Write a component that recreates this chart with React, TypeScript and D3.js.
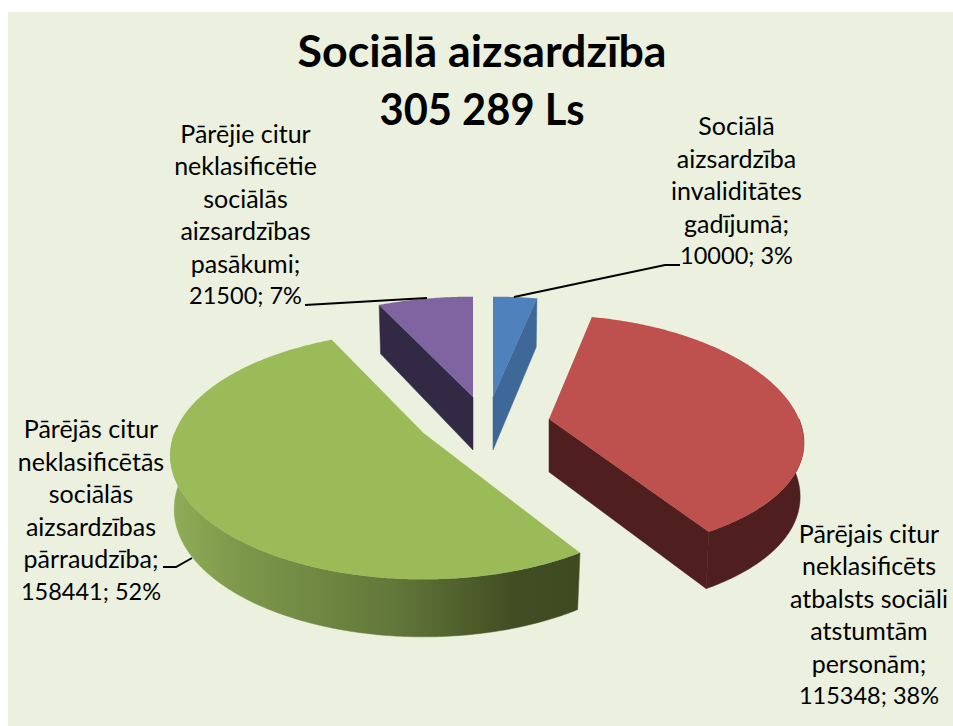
import React from "react";
import * as d3 from "d3";

const titleLines = ["Sociālā aizsardzība", "305 289 Ls"];
const categories = [
  "Sociālā aizsardzība invaliditātes gadījumā",
  "Pārējais citur neklasificēts atbalsts sociāli atstumtām personām",
  "Pārējās citur neklasificētās sociālās aizsardzības pārraudzība",
  "Pārējie citur neklasificētie sociālās aizsardzības pasākumi",
];
const values = [10000, 115348, 158441, 21500];
const percents = ["3%", "38%", "52%", "7%"];
const topColors = ["#4F81BD", "#BE504E", "#9BBB59", "#8064A2"];
const wallColors = ["#3D6897", "#4F1F1F", "url(#greenWall)", "#322A45"];

const labelLines = [
  ["Sociālā", "aizsardzība", "invaliditātes", "gadījumā;"],
  ["Pārējais citur", "neklasificēts", "atbalsts sociāli", "atstumtām", "personām;"],
  ["Pārējās citur", "neklasificētās", "sociālās", "aizsardzības", "pārraudzība;"],
  ["Pārējie citur", "neklasificētie", "sociālās", "aizsardzības", "pasākumi;"],
];

// layout only
const sliceLayout = [
  { cx: 493, cy: 397, rx: 256, px: 0.196, ry: 120, py: 0.196 },
  { cx: 549, cy: 419, rx: 250, px: 0.196, ry: 118, py: 0.136 },
  { cx: 423.5, cy: 433, rx: 249, px: 0.18, ry: 120, py: 0.18 },
  { cx: 473, cy: 397, rx: 258, px: 0.196, ry: 120, py: 0.196 },
];
const labelAnchors = [
  { x: 736.5, y: 125, dy: 32.5 },
  { x: 869, y: 533, dy: 32.4 },
  { x: 91, y: 428, dy: 32.5 },
  { x: 245.5, y: 133, dy: 32.4 },
];
const titleLayout = [
  { y: 50, width: 369 },
  { y: 108, width: 205 },
];
const leaderPaths: [number, number][][] = [
  [[514, 297], [665, 265], [680, 265]],
  [],
  [[163, 567], [176, 567], [192, 558]],
  [[305, 305], [427, 298]],
];

const line = d3.line<[number, number]>().x((d) => d[0]).y((d) => d[1]);

type L = (typeof sliceLayout)[number];
function project(l: L, a: number, r: number, lower: boolean): [number, number] {
  const u = r * Math.sin(a);
  const v = r * Math.cos(a);
  let x = (l.rx * u) / (1 + l.px * v);
  let y = (-l.ry * v) / (1 + l.py * v);
  if (lower) {
    x *= 0.985;
    y += 53 - 4.5 * v;
  }
  return [l.cx + x, l.cy + y];
}

function arcPoints(l: L, a0: number, a1: number, lower: boolean) {
  const n = Math.max(2, Math.ceil(Math.abs(a1 - a0) / 0.01));
  return d3.range(n + 1).map((i) => project(l, a0 + ((a1 - a0) * i) / n, 1, lower));
}

const arcs = d3.pie<number>().sort(null).startAngle(0).endAngle(2 * Math.PI)(values);

export default function App() {
  const font = "Lato, Carlito, 'Open Sans', sans-serif";
  return (
    <svg
      width={953}
      height={726}
      style={{ position: "absolute", left: 0, top: 0, background: "#fff" }}
      fontFamily={font}
    >
      <defs>
        <linearGradient id="greenWall" gradientUnits="userSpaceOnUse" x1={170} x2={577} y1={0} y2={0}>
          <stop offset="0" stopColor="#8FAE58" />
          <stop offset="0.15" stopColor="#7F9A4C" />
          <stop offset="0.55" stopColor="#62773A" />
          <stop offset="0.85" stopColor="#414D22" />
          <stop offset="1" stopColor="#3F4A20" />
        </linearGradient>
      </defs>
      <rect x={8} y={12} width={945} height={714} fill="#EBF1DE" />

      {arcs.map((arc, i) => {
        const l = sliceLayout[i];
        const a0 = arc.startAngle;
        const a1 = arc.endAngle;
        const wStart = Math.max(a0, Math.PI / 2);
        const wEnd = Math.min(a1, (3 * Math.PI) / 2);
        const walls: React.ReactNode[] = [];
        if (wEnd > wStart) {
          const top = arcPoints(l, wStart, wEnd, false);
          const bot = arcPoints(l, wStart, wEnd, true).reverse();
          walls.push(<path key="outer" d={line([...top, ...bot])! + "Z"} fill={wallColors[i]} stroke={wallColors[i]} strokeWidth={0.5} />);
        }
        [
          { a: a0, show: Math.sin(a0) < -1e-6 },
          { a: a1, show: Math.sin(a1) > 1e-6 },
        ].forEach((c, k) => {
          if (!c.show) return;
          const pts: [number, number][] = [
            project(l, 0, 0, false),
            project(l, c.a, 1, false),
            project(l, c.a, 1, true),
            project(l, 0, 0, true),
          ];
          walls.push(<path key={"cut" + k} d={line(pts)! + "Z"} fill={wallColors[i]} stroke={wallColors[i]} strokeWidth={0.5} />);
        });
        const topPts = [project(l, 0, 0, false), ...arcPoints(l, a0, a1, false)];
        return (
          <g key={categories[i]}>
            {walls}
            <path d={line(topPts)! + "Z"} fill={topColors[i]} />
          </g>
        );
      })}

      {leaderPaths.map((p, i) =>
        p.length ? <path key={i} d={line(p)!} fill="none" stroke="#000" strokeWidth={2} /> : null
      )}

      {titleLines.map((t, i) => (
        <text
          key={t}
          x={482}
          y={titleLayout[i].y}
          textAnchor="middle"
          dominantBaseline="central"
          fontSize={44}
          fontWeight={700}
          fill="#000"
          textLength={titleLayout[i].width}
          lengthAdjust="spacingAndGlyphs"
        >
          {t}
        </text>
      ))}

      {labelLines.map((lines, i) => {
        const a = labelAnchors[i];
        return (
          <g key={i} fontSize={25} fill="#000" textAnchor="middle">
            {lines.map((t, k) => (
              <text key={k} x={a.x} y={a.y + k * a.dy} dominantBaseline="central">
                {t}
              </text>
            ))}
            <text x={a.x} y={a.y + lines.length * a.dy} dominantBaseline="central" fontSize={23.5}>
              {`${values[i]}; ${percents[i]}`}
            </text>
          </g>
        );
      })}
    </svg>
  );
}
